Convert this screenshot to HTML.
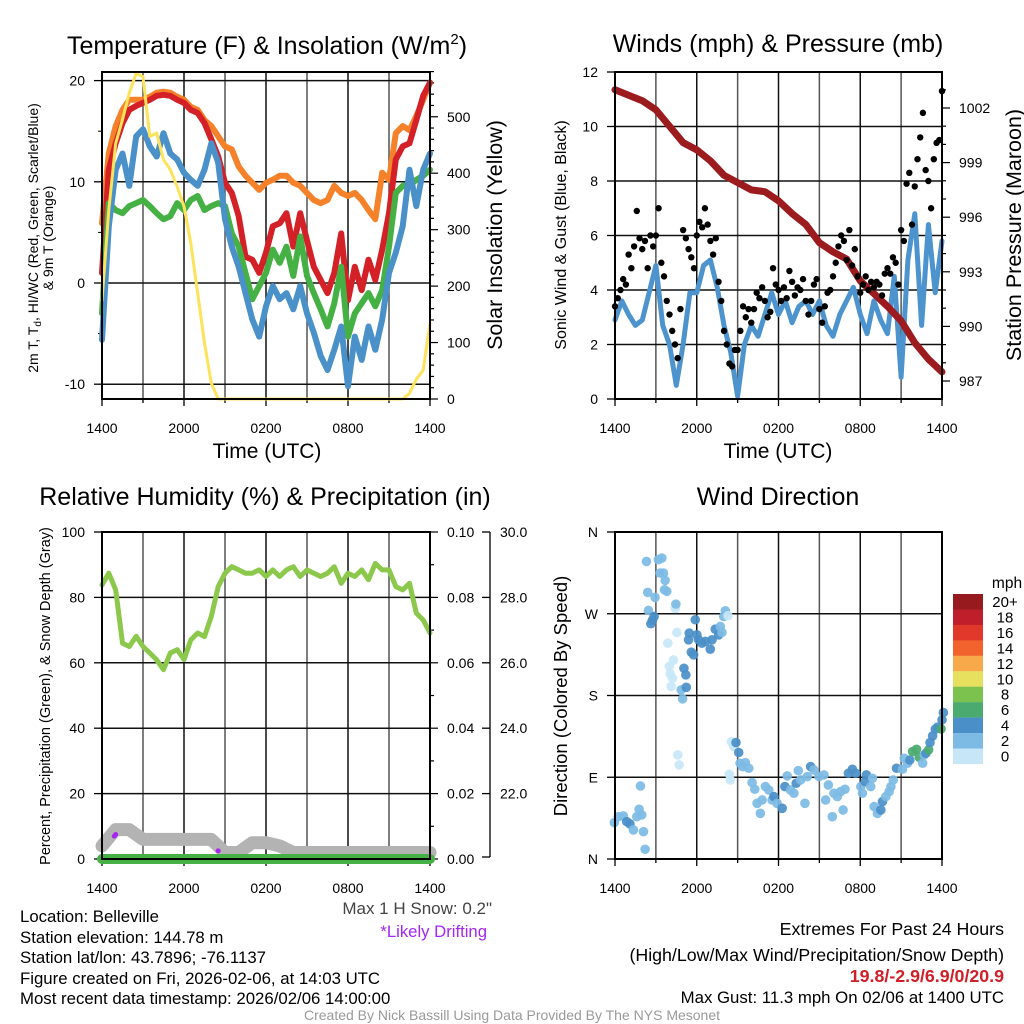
<!DOCTYPE html>
<html><head><meta charset="utf-8"><style>
html,body{margin:0;padding:0;background:#fff;}
svg{display:block;font-family:"Liberation Sans",sans-serif;}
</style></head><body>
<svg id="chart" width="1024" height="1024" viewBox="0 0 1024 1024" xmlns="http://www.w3.org/2000/svg">
<rect width="1024" height="1024" fill="#fff"/>
<g id="p1"></g>
<g id="p2"></g>
<g id="p3"></g>
<g id="p4"></g>
<g id="txt">
<text x="267" y="54" font-size="25" text-anchor="middle">Temperature (F) &amp; Insolation (W/m<tspan font-size="15" dy="-10">2</tspan><tspan dy="10">)</tspan></text>
<text x="778" y="52" font-size="25" text-anchor="middle">Winds (mph) &amp; Pressure (mb)</text>
<text x="265" y="505" font-size="25" text-anchor="middle">Relative Humidity (%) &amp; Precipitation (in)</text>
<text x="778" y="505" font-size="25" text-anchor="middle">Wind Direction</text>
<text x="267" y="458" font-size="21" text-anchor="middle">Time (UTC)</text>
<text x="778" y="458" font-size="21" text-anchor="middle">Time (UTC)</text>
<text transform="translate(38,238) rotate(-90)" font-size="14" text-anchor="middle">2m T, T<tspan font-size="10" dy="3">d</tspan><tspan dy="-3">, HI/WC (Red, Green, Scarlet/Blue)</tspan></text>
<text transform="translate(53,238) rotate(-90)" font-size="14" text-anchor="middle">&amp; 9m T (Orange)</text>
<text transform="translate(502,235) rotate(-90)" font-size="21.5" text-anchor="middle">Solar Insolation (Yellow)</text>
<text transform="translate(566,235) rotate(-90)" font-size="16" text-anchor="middle">Sonic Wind &amp; Gust (Blue, Black)</text>
<text transform="translate(1021,235) rotate(-90)" font-size="21.5" text-anchor="middle">Station Pressure (Maroon)</text>
<text transform="translate(50,696) rotate(-90)" font-size="14.5" text-anchor="middle">Percent, Precipitation (Green), &amp; Snow Depth (Gray)</text>
<text transform="translate(567,696) rotate(-90)" font-size="18.5" text-anchor="middle">Direction (Colored By Speed)</text>
<text x="492" y="914" font-size="17" fill="#444" text-anchor="end">Max 1 H Snow: 0.2"</text>
<text x="487" y="937" font-size="16.7" fill="#a526f0" text-anchor="end">*Likely Drifting</text>
<g font-size="16.8">
<text x="20" y="922">Location: Belleville</text>
<text x="20" y="943">Station elevation: 144.78 m</text>
<text x="20" y="963">Station lat/lon: 43.7896; -76.1137</text>
<text x="20" y="984">Figure created on Fri, 2026-02-06, at 14:03 UTC</text>
<text x="20" y="1004">Most recent data timestamp: 2026/02/06 14:00:00</text>
</g>
<g font-size="17.8" text-anchor="end">
<text x="1004" y="935">Extremes For Past 24 Hours</text>
<text x="1004" y="961">(High/Low/Max Wind/Precipitation/Snow Depth)</text>
<text x="1004" y="982" fill="#d0202a" font-weight="bold">19.8/-2.9/6.9/0/20.9</text>
<text x="1004" y="1003" font-size="16.8">Max Gust: 11.3 mph On 02/06 at 1400 UTC</text>
</g>
<text x="512" y="1020" font-size="14" fill="#999" text-anchor="middle">Created By Nick Bassill Using Data Provided By The NYS Mesonet</text>
</g>
</svg>
<script>
const hourTicks=["1400","2000","0200","0800","1400"];
const tempTicks=[20,10,0,-10];
const insTicks=[0,100,200,300,400,500];
const windTicks=[0,2,4,6,8,10,12];
const presTicks=[987,990,993,996,999,1002];
const rhTicks=[0,20,40,60,80,100];
const precipTicks=["0.00","0.02","0.04","0.06","0.08","0.10"];
const snowTicks=["22.0","24.0","26.0","28.0","30.0"];
const dirTicks=["N","E","S","W","N"];
// half-hourly series (49 values, 1400 -> 1400 UTC)
const tempRed=[1,11.2,13.8,15.8,17.1,17.5,17.8,18.1,18.5,18.6,18.5,18.1,17.8,17.1,16.8,15.8,14.2,12.5,9.9,8.9,6.6,2.6,2.3,1.0,3.0,5.6,5.9,6.9,3.6,6.9,4.2,1.6,0.3,-1.0,1.0,4.9,-1.7,1.6,-0.7,2.3,0.3,3.3,6.9,12.2,13.5,13.8,16.1,18.5,19.8];
const temp9m=[5.9,12.8,15.5,17.1,18.1,18.1,18.1,18.4,18.8,18.9,18.8,18.4,18.1,17.4,17.1,16.1,15.5,14.5,13.5,13.2,11.5,10.6,9.9,9.2,9.9,10.2,10.6,10.6,9.9,9.6,8.9,8.2,7.9,8.2,9.6,8.9,8.6,8.9,8.2,7.2,6.3,10.9,10.2,14.8,15.5,15.1,16.5,18.1,19.8];
const windChill=[-5.6,5.6,11.2,12.8,9.6,14.5,15.2,13.5,12.5,14.8,12.8,12.2,10.9,10.2,9.6,11.2,13.8,11.9,6.3,3.6,1.6,-1.0,-3.6,-5.3,-2.3,-0.3,-1.6,-1.0,-2.6,-0.3,-3.0,-4.9,-7.2,-8.6,-6.6,-4.3,-10.2,-5.3,-7.6,-4.3,-6.6,-3.6,1.0,3.0,5.6,11.2,7.6,11.2,12.8];
const dewPoint=[-3.0,7.9,7.2,6.9,7.6,7.9,8.2,7.6,6.9,6.3,6.6,7.9,7.2,8.2,8.6,7.2,7.6,7.9,7.6,4.9,3.6,1.0,-1.6,-0.3,1.0,3.3,2.0,3.6,0.7,4.6,0.7,-1.0,-2.6,-4.3,-2.0,1.6,-5.3,-3.0,-2.0,-1.0,-2.3,-0.7,3.6,8.9,9.6,9.6,10.2,10.6,11.2];
const insolation=[175,335,453,495,542,577,571,465,471,424,406,376,341,276,187,99,28,0,0,0,0,0,0,0,0,0,0,0,0,0,0,0,0,0,0,0,0,0,0,0,0,0,0,0,0,10,35,51,134];
const windSpeed=[2.9,3.6,3.1,2.7,2.9,3.9,4.9,2.7,2.0,0.5,2.0,3.9,3.9,4.9,5.1,4.1,2.7,1.7,0.1,2.0,2.7,2.3,3.1,3.9,3.1,3.6,2.8,3.4,3.6,3.1,3.6,2.7,2.3,3.1,3.6,4.1,3.1,2.4,3.6,2.9,2.4,4.5,0.8,5.1,6.8,2.7,6.4,3.9,5.8];
// hourly pressure (25 values)
const pressure=[1003.0,1002.7,1002.4,1001.9,1001.0,1000.1,999.7,999.1,998.3,997.9,997.5,997.4,996.9,996.2,995.6,994.6,994.1,993.7,992.5,991.8,991.1,990.3,989.1,988.2,987.5];
// gusts every 12 minutes (121 values)
const gusts=[3.4,3.7,4.0,4.4,4.2, 5.3,4.8,5.6,6.9,5.9, 5.5,5.8,4.8,6.0,5.6, 6.0,7.0,5.0,4.5,3.6, 3.1,2.5,2.0,1.5,3.3, 6.2,5.9,5.5,5.2,4.8, 6.0,6.5,6.3,7.0,6.4, 5.8,5.3,5.9,4.3,3.6, 2.5,2.0,1.3,1.2,1.8, 1.8,2.5,3.4,3.0,3.3, 2.8,3.3,3.9,3.7,4.1, 3.6,3.0,3.2,4.8,4.2, 4.0,3.6,4.1,3.7,4.7, 4.3,3.8,4.1,4.0,4.4, 3.6,3.1,3.6,4.2,4.4, 3.3,2.8,3.4,3.9,4.0, 4.5,5.0,5.6,6.0,5.8, 5.1,6.2,4.9,5.5,4.5, 3.9,4.2,4.5,4.0,4.3, 4.1,4.3,4.2,3.8,4.6, 4.8,4.6,5.2,5.0,4.2, 6.2,5.8,7.9,8.3,6.4, 7.8,8.8,9.6,10.5,8.4, 8.0,7.0,8.8,9.4,9.5, 11.3];
const relHum=[83.8,87.4,82.3,66.0,65.0,68.1,65.0,63.0,60.9,57.9,63.0,64.0,61,67,69.1,68,74.2,83.3,87.4,89.4,88.4,87.4,87.4,88.4,86.4,88.4,86.4,88.4,89.4,86.4,88.4,87.4,86.4,87.4,89.4,84.3,87.4,86.4,88.4,85.4,90.4,88.4,88.4,83.3,82.3,84.3,75.2,73.1,69.1];
// hourly snow depth (25 values)
const snowDepth=[20.4,20.9,20.9,20.6,20.6,20.6,20.6,20.6,20.6,20.2,20.2,20.5,20.5,20.4,20.2,20.2,20.2,20.2,20.2,20.2,20.2,20.2,20.2,20.2,20.2];
const precip=[0,0,0,0,0,0,0,0,0,0,0,0,0,0,0,0,0,0,0,0,0,0,0,0,0];
const driftHours=[0.9,1.0,8.5];
const driftDepth=[20.7,20.75,20.25];
// wind direction observations
const dirHours=[-0.05,0.25,0.61,0.86,1.10,1.35,1.60,1.77,1.87,1.96,
2.09,2.21,2.31,2.40,2.45,2.63,2.75,2.87,2.94,3.19,
3.31,3.44,3.56,3.68,3.63,3.80,3.88,3.98,4.05,4.12,
4.22,4.29,4.42,4.47,4.54,4.61,4.71,4.86,4.96,5.06,
5.20,5.23,5.45,5.40,5.60,5.77,5.89,6.01,6.13,6.38,
6.63,6.99,7.12,7.36,7.61,7.73,7.85,7.98,8.10,8.29,
8.39,8.47,8.54,8.71,8.88,9.08,9.18,9.37,9.57,9.82,
10.06,10.26,10.43,10.67,10.80,11.04,11.29,11.53,11.66,11.90,
12.27,12.47,12.64,12.88,13.13,13.30,13.45,13.62,13.94,14.11,
14.36,14.60,14.97,15.34,15.46,15.66,15.95,16.07,16.32,16.56,
16.74,16.88,17.13,17.42,17.67,18.04,18.16,18.36,18.45,18.77,
18.90,19.02,19.26,19.51,19.63,19.88,20.12,20.25,20.42,20.66,
21.10,21.23,21.47,21.64,21.84,22.13,22.33,22.58,22.70,22.82,
23.02,23.12,23.31,23.51,23.68,23.93,24.0,24.1];
const dirDeg=[40,46.6,47.4,41.1,38.6,32,46.6,54.7,80.4,48.5,
30.1,10.7,327.6,293.5,273.6,259,263,267,288,329.5,
314.8,331.3,314.8,306.7,296.4,294.6,237.6,212,203.9,190,
199,219,276,280.6,249.4,114.6,103.6,186.2,176.3,210,
202.7,189,248.7,241.3,227.7,224.8,263.4,246.8,241.3,237.6,
239.5,231,241.3,253,246.8,256,249.4,267,273.3,267.8,
93.3,87,129,123.8,128.2,117.2,105.4,101.7,106.1,99.9,
84.1,76.8,61.3,50.3,65,79.7,76,65,68.7,61.3,
55.8,79.7,91.5,76,72.4,83.4,97.3,87,61.3,90.7,
101.7,98,90.7,92.6,65,81.5,46.6,72.4,68.7,74.2,
54,76.8,94.4,98.8,94.4,79.7,72.4,85.2,92.6,79.7,
88.9,57.7,50.3,54,63.2,68.7,74.2,79.7,87,99.9,
98.8,110.9,105.4,109,118.3,120.8,112,105.4,114.6,116.4,
120.1,128.2,135.5,142.9,145.1,143.2,153.2,161.2];
const dirSpeed=[3,3,3,5,5,3,3,3,3,3,
3,3,3,3,3,5,5,5,3,3,
3,3,3,3,3,3,1,1,1,1,
1,1,1,3,1,1,1,3,3,5,
5,5,5,5,5,5,5,5,5,5,
5,5,5,5,5,3,3,3,3,1,
1,1,1,1,5,5,3,3,3,3,
3,3,3,3,3,3,3,3,5,3,
5,5,3,3,3,5,3,3,3,3,
5,3,3,3,3,3,3,3,3,3,
3,3,5,5,5,3,3,5,5,3,
3,3,3,5,5,3,3,3,3,5,
3,3,3,5,7,7,7,3,3,5,
7,5,5,5,5,7,5,5];
const cbLabels=["20+","18","16","14","12","10","8","6","4","2","0"];
const cbColors=["#961a1e","#bf1f2a","#e0392b","#f1622c","#f8a94a","#e6e05e","#7cc24e","#4aaa6f","#4a8fc8","#7dbbe5","#c7e7f9"];

const NS="http://www.w3.org/2000/svg";
function mk(parent,tag,attrs){const e=document.createElementNS(NS,tag);for(const k in attrs)e.setAttribute(k,attrs[k]);parent.appendChild(e);return e;}
function txt(parent,x,y,s,size,anchor,fill){const t=mk(parent,"text",{x:x,y:y,"font-size":size,"text-anchor":anchor||"middle",fill:fill||"#000"});t.textContent=s;return t;}

function frame(g,L,R,T,B){
  for(let h=0;h<=24;h+=3){const x=L+(R-L)*h/24;
    const gl=mk(g,"line",{x1:x,x2:x,y1:T,y2:B,stroke:(h%6==0)?"#111":"#555","stroke-width":1.5});
    
    
    mk(g,"line",{x1:x,x2:x,y1:B,y2:B+(h%6==0?7:4),stroke:"#000","stroke-width":1.3});}
  hourTicks.forEach((s,i)=>{const t=txt(g,L+(R-L)*i/4,B+34,s,14);
    
    });
}
function box(g,L,R,T,B){const r=mk(g,"rect",{x:L,y:T,width:R-L,height:B-T,fill:"none",stroke:"#000","stroke-width":2});
  
  }
function pathFrom(vals,xf,yf){return vals.map((v,i)=>(i?"L":"M")+xf(i).toFixed(1)+","+yf(v).toFixed(1)).join("");}
function line(g,d,color,w,name){const p=mk(g,"path",{d:d,fill:"none",stroke:color,"stroke-width":w,"stroke-linejoin":"round","stroke-linecap":"round"});
  
  return p;}

// ---------- Panel 1 ----------
(function(){
  const g=document.getElementById("p1");const L=102,R=430,T=72,B=399;
  const xh=i=>L+(R-L)*i/48;
  const yT=v=>283-(v)*10.12;
  const yI=v=>399-v*0.5645;
  frame(g,L,R,T,B);
  tempTicks.forEach(v=>{const y=yT(v);mk(g,"line",{x1:L,x2:R,y1:y,y2:y,stroke:"#111","stroke-width":1.5});
    mk(g,"line",{x1:L-8,x2:L,y1:y,y2:y,stroke:"#000","stroke-width":1.3});
    const t=txt(g,L-17,y+5,String(v),14,"end");
    
    });
  [15,5,-5].forEach(v=>mk(g,"line",{x1:L-4,x2:L,y1:yT(v),y2:yT(v),stroke:"#000"}));
  for(let v=0;v<=580;v+=20){const y=yI(v);mk(g,"line",{x1:R,x2:R+(v%100==0?8:4),y1:y,y2:y,stroke:"#000","stroke-width":1.2});}
  insTicks.forEach(v=>{const t=txt(g,R+17,yI(v)+5,String(v),14,"start");
    
    });
  line(g,pathFrom(temp9m,xh,yT),"#f5822a",6,"temp-9m-line");
  line(g,pathFrom(tempRed,xh,yT),"#d42128",6,"temp-2m-line");
  line(g,pathFrom(dewPoint,xh,yT),"#45b044",6,"dewpoint-line");
  line(g,pathFrom(windChill,xh,yT),"#4a90c9",6,"windchill-line");
  line(g,pathFrom(insolation,xh,yI),"#fde35a",3,"insolation-line");
  box(g,L,R,T,B);
})();

// ---------- Panel 2 ----------
(function(){
  const g=document.getElementById("p2");const L=615,R=942,T=72,B=399;
  const yW=v=>399-v*27.25;
  const yP=v=>108+(1002-v)*18.2;
  frame(g,L,R,T,B);
  windTicks.forEach(v=>{const y=yW(v);mk(g,"line",{x1:L,x2:R,y1:y,y2:y,stroke:"#111","stroke-width":1.5});
    mk(g,"line",{x1:L-8,x2:L,y1:y,y2:y,stroke:"#000","stroke-width":1.3});
    const t=txt(g,L-17,y+5,String(v),14,"end");
    
    });
  for(let v=986;v<=1003;v++){const y=yP(v);if(y<T||y>B)continue;mk(g,"line",{x1:R,x2:R+(presTicks.includes(v)?8:4),y1:y,y2:y,stroke:"#000","stroke-width":1.2});}
  presTicks.forEach(v=>{const t=txt(g,R+17,yP(v)+5,String(v),14,"start");
    
    });
  line(g,pathFrom(windSpeed,i=>L+(R-L)*i/48,yW),"#4d94cf",5,"wind-speed-line");
  line(g,pathFrom(pressure,i=>L+(R-L)*i/24,yP),"#9b1b1f",7,"pressure-line");
  gusts.forEach((v,i)=>{const c=mk(g,"circle",{cx:L+(R-L)*i/(gusts.length-1),cy:yW(v),r:3.2,fill:"#000"});
    
    });
  box(g,L,R,T,B);
})();

// ---------- Panel 3 ----------
(function(){
  const g=document.getElementById("p3");const L=102,R=430,T=532,B=859;
  const yR=v=>859-v*3.27;
  const yS=v=>532+(30-v)*32.7;
  frame(g,L,R,T,B);
  rhTicks.forEach(v=>{const y=yR(v);mk(g,"line",{x1:L,x2:R,y1:y,y2:y,stroke:"#111","stroke-width":1.5});
    mk(g,"line",{x1:L-8,x2:L,y1:y,y2:y,stroke:"#000","stroke-width":1.3});
    const t=txt(g,L-17,y+5,String(v),14,"end");
    
    });
  for(let v=0;v<=100;v+=10){const y=yR(v);mk(g,"line",{x1:R,x2:R+(v%20==0?8:4),y1:y,y2:y,stroke:"#000","stroke-width":1.2});}
  precipTicks.forEach((s,i)=>{const t=txt(g,R+17,yR(i*20)+5,s,14,"start");
    
    });
  mk(g,"line",{x1:490,x2:490,y1:532,y2:857,stroke:"#000","stroke-width":1.3});
  snowTicks.forEach(s=>{const y=yS(parseFloat(s));mk(g,"line",{x1:482,x2:490,y1:y,y2:y,stroke:"#000","stroke-width":1.3});
    const t=txt(g,500,y+5,s,14,"start");
    
    });
  mk(g,"line",{x1:482,x2:490,y1:857,y2:857,stroke:"#000","stroke-width":1.3});
  line(g,pathFrom(snowDepth,i=>L+(R-L)*i/24,yS),"#b3b3b3",13,"snow-depth-line");
  line(g,pathFrom(precip,i=>L+(R-L)*i/24,v=>yR(v*1000)),"#45b044",10,"precip-line");
  line(g,pathFrom(relHum,i=>L+(R-L)*i/48,yR),"#8cc84b",5,"rh-line");
  driftHours.forEach((h,i)=>{const c=mk(g,"circle",{cx:L+(R-L)*h/24,cy:yS(driftDepth[i]),r:2.5,fill:"#a526f0"});
    
    });
  box(g,L,R,T,B);
})();

// ---------- Panel 4 ----------
(function(){
  const g=document.getElementById("p4");const L=615,R=942,T=532,B=859;
  const yD=v=>B-v/360*(B-T);
  frame(g,L,R,T,B);
  dirTicks.forEach((s,i)=>{const y=yD(i*90);mk(g,"line",{x1:L,x2:R,y1:y,y2:y,stroke:"#111","stroke-width":1.5});
    mk(g,"line",{x1:L-8,x2:L,y1:y,y2:y,stroke:"#000","stroke-width":1.3});
    const t=txt(g,L-17,y+5,s,14,"end");
    
    });
  const colorFor=s=>{let k=Math.min(10,Math.floor(s/2));return cbColors[10-k];};
  dirHours.forEach((h,i)=>{const c=mk(g,"circle",{cx:L+(R-L)*h/24,cy:yD(dirDeg[i]),r:4.8,fill:colorFor(dirSpeed[i]),"fill-opacity":0.92});
    
    });
  box(g,L,R,T,B);
  const cb=mk(g,"g",{});
  
  
  cbColors.forEach((c,i)=>{mk(cb,"rect",{x:953,y:594+i*15.45,width:30,height:15.6,fill:c});
    const t=txt(cb,1005,594+i*15.45+13,cbLabels[i],15);
    
    });
  const u=txt(cb,1007,588,"mph",15.5);
  
  
})();
</script>
</body></html>
